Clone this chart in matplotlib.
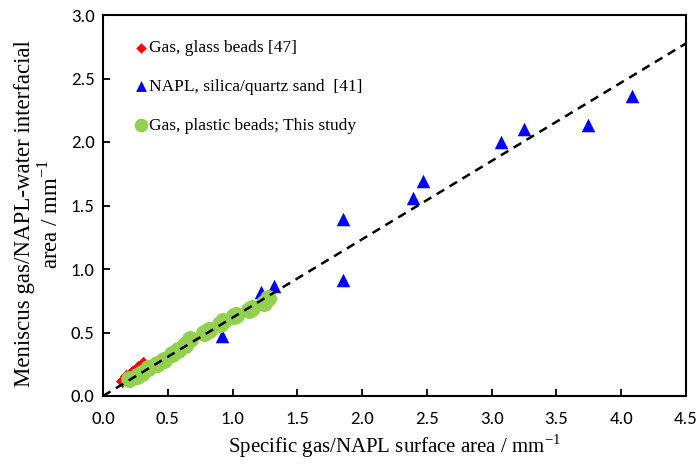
import matplotlib
matplotlib.use("Agg")
import matplotlib.pyplot as plt

# Gas in glass beads [47]
glass_x = [0.15, 0.18, 0.22, 0.27, 0.31]
glass_y = [0.12, 0.16, 0.19, 0.23, 0.26]

# NAPL in silica/quartz sand [41]
sand_x = [0.92, 1.22, 1.22, 1.32, 1.85, 1.85, 2.39, 2.47, 3.07, 3.25, 3.74, 4.08]
sand_y = [0.47, 0.82, 0.73, 0.87, 1.39, 0.91, 1.56, 1.69, 2.00, 2.10, 2.13, 2.36]

# Gas in plastic beads (this study)
plastic_x = [0.20, 0.26, 0.30, 0.35, 0.42, 0.47, 0.53, 0.58, 0.63, 0.67,
             0.78, 0.82, 0.90, 0.93, 1.01, 1.03, 1.13, 1.15, 1.24, 1.27]
plastic_y = [0.13, 0.16, 0.18, 0.22, 0.25, 0.28, 0.33, 0.36, 0.40, 0.45,
             0.50, 0.52, 0.57, 0.59, 0.63, 0.64, 0.68, 0.69, 0.73, 0.77]

# Linear fit through the origin
fit_slope = 0.617
fit_x = [0.0, 4.5]

x_ticks = [0.0, 0.5, 1.0, 1.5, 2.0, 2.5, 3.0, 3.5, 4.0, 4.5]
y_ticks = [0.0, 0.5, 1.0, 1.5, 2.0, 2.5, 3.0]

tick_font = "Carlito"
serif = "Liberation Serif"
unit = "mm$^{\\mathregular{-1}}$"

fig = plt.figure(figsize=(6.99, 4.70), dpi=100)
ax = fig.add_axes([103 / 699, 1 - 396 / 470, (686 - 103) / 699, (396 - 15) / 470])

ax.plot(fit_x, [fit_slope * v for v in fit_x], linestyle=(0, (3.5, 2.5)),
        color="black", linewidth=1.8, zorder=4)

ax.scatter(glass_x, glass_y, marker="D", s=45, color="#ff0000",
           linewidths=0, label="Gas, glass beads [47]", zorder=2)
ax.scatter(sand_x, sand_y, marker="^", s=95, color="#0000ff",
           linewidths=0, label="NAPL, silica/quartz sand  [41]", zorder=3)
ax.scatter(plastic_x, plastic_y, marker="o", s=150, color="#92d050",
           linewidths=0, label="Gas, plastic beads; This study", zorder=3)

ax.set_xlim(0, 4.5)
ax.set_ylim(0, 3.0)
ax.set_xticks(x_ticks)
ax.set_yticks(y_ticks)
ax.set_xticklabels([f"{v:.1f}" for v in x_ticks])
ax.set_yticklabels([f"{v:.1f}" for v in y_ticks])
ax.tick_params(direction="in", length=5, width=1.3,
               labelfontfamily=tick_font, labelsize=13.5)
ax.tick_params(axis="x", pad=11)
ax.tick_params(axis="y", pad=6)

for sp in ax.spines.values():
    sp.set_linewidth(1.5)

ax.set_xlabel("Specific gas/NAPL surface area / " + unit, fontfamily=serif,
              fontsize=15)
ax.xaxis.set_label_coords(0.5, -0.095)
ax.set_ylabel("Meniscus gas/NAPL-water interfacial\narea / " + unit, fontfamily=serif,
              fontsize=16.5, linespacing=1.15)
ax.yaxis.set_label_coords(-0.07, 0.478)

leg = ax.legend(loc="upper left", bbox_to_anchor=(0.02, 0.975), frameon=False,
                prop={"family": serif, "size": 12.5}, handletextpad=-0.1,
                labelspacing=1.3, handlelength=1.2, markerscale=0.8)

fig.savefig("out.png", dpi=100)
